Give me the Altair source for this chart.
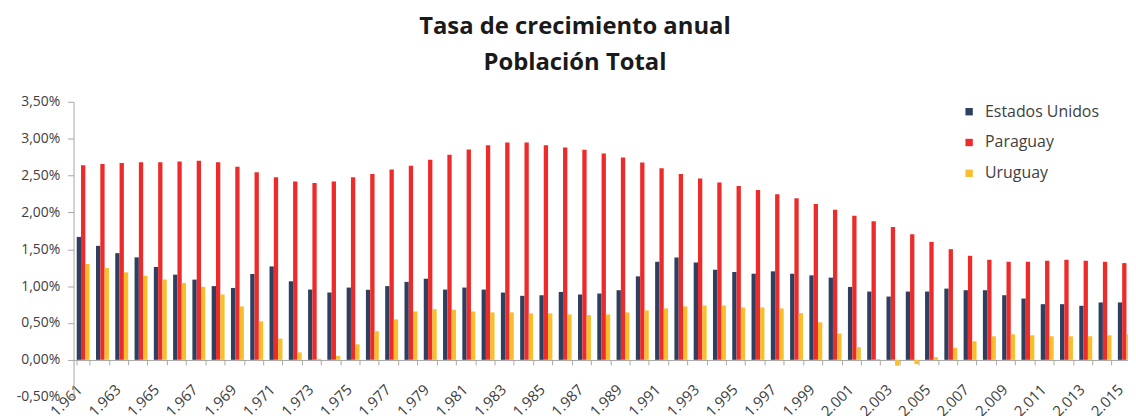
import altair as alt
import pandas as pd

years = list(range(1961, 2016))
series = ["Estados Unidos", "Paraguay", "Uruguay"]
colors = ["#2E3F5F", "#EE2B2B", "#F8BE2C"]

usa = [1.667, 1.546, 1.447, 1.39, 1.26, 1.155, 1.088, 1.0, 0.975, 1.164,
       1.267, 1.065, 0.953, 0.912, 0.98, 0.95, 1.0, 1.057, 1.10, 0.953,
       0.98, 0.953, 0.912, 0.868, 0.876, 0.921, 0.886, 0.899, 0.944, 1.132,
       1.33, 1.388, 1.32, 1.222, 1.191, 1.168, 1.2, 1.168, 1.146, 1.115,
       0.989, 0.926, 0.858, 0.926, 0.926, 0.966, 0.944, 0.944, 0.876, 0.831,
       0.755, 0.755, 0.733, 0.778, 0.778]
paraguay = [2.64, 2.655, 2.67, 2.68, 2.68, 2.69, 2.70, 2.68, 2.62, 2.543,
            2.476, 2.42, 2.40, 2.42, 2.476, 2.52, 2.58, 2.633, 2.714, 2.78,
            2.853, 2.91, 2.947, 2.947, 2.91, 2.88, 2.849, 2.80, 2.745, 2.678,
            2.597, 2.52, 2.458, 2.404, 2.359, 2.305, 2.247, 2.193, 2.112, 2.035,
            1.954, 1.878, 1.80, 1.703, 1.60, 1.501, 1.411, 1.357, 1.33, 1.33,
            1.344, 1.357, 1.344, 1.33, 1.312]
uruguay = [1.30, 1.245, 1.186, 1.14, 1.088, 1.043, 0.99, 0.886, 0.724, 0.522,
           0.288, 0.10, 0.014, 0.054, 0.21, 0.387, 0.548, 0.656, 0.687, 0.679,
           0.656, 0.643, 0.643, 0.63, 0.63, 0.616, 0.607, 0.616, 0.643, 0.67,
           0.697, 0.724, 0.737, 0.737, 0.71, 0.71, 0.697, 0.634, 0.508, 0.356,
           0.171, 0.01, -0.08, -0.058, 0.036, 0.162, 0.252, 0.319, 0.346, 0.333,
           0.319, 0.319, 0.319, 0.333, 0.346]
y_ticks = [-0.5, 0.0, 0.5, 1.0, 1.5, 2.0, 2.5, 3.0, 3.5]

rows = []
for name, vals in zip(series, [usa, paraguay, uruguay]):
    for yr, v in zip(years, vals):
        rows.append({"year": yr, "serie": name, "value": v})
df = pd.DataFrame(rows)

FONT = "Open Sans"

chart = alt.Chart(df).mark_bar().encode(
    x=alt.X("year:O",
            scale=alt.Scale(paddingInner=0.33, paddingOuter=0.165),
            axis=alt.Axis(title=None, offset=-37, tickBand="extent", tickSize=5,
                          tickColor="#A6A6A6", domainColor="#A6A6A6",
                          labelAngle=-45, labelAlign="right", labelBaseline="middle",
                          labelPadding=22, labelOffset=-4, labelFont=FONT,
                          labelFontSize=15, labelColor="#404040", labelOverlap=False,
                          labelExpr="datum.value % 2 == 1 ? substring(toString(datum.value), 0, 1) + '.' + substring(toString(datum.value), 1) : ''")),
    xOffset=alt.XOffset("serie:N", sort=series,
                        scale=alt.Scale(paddingInner=0, paddingOuter=0)),
    y=alt.Y("value:Q",
            scale=alt.Scale(domain=[-0.5, 3.5], nice=False, zero=False),
            axis=alt.Axis(title=None, values=y_ticks, grid=False, tickSize=6,
                          tickColor="#A6A6A6", domainColor="#A6A6A6",
                          labelPadding=8, labelFont=FONT, labelFontSize=14,
                          labelColor="#404040",
                          labelExpr="replace(replace(format(datum.value, '.2f'), '.', ','), '\u2212', '-') + '%'")),
    color=alt.Color("serie:N", sort=series,
                    scale=alt.Scale(domain=series, range=colors),
                    legend=alt.Legend(title=None, orient="none", legendX=894, legendY=2,
                                      symbolType="square", symbolSize=55,
                                      symbolStrokeWidth=0, labelFont=FONT,
                                      labelFontSize=16, labelColor="#404040",
                                      rowPadding=15, labelOffset=8)),
).properties(
    width=1068,
    height=297,
    autosize=alt.AutoSizeParams(type="none"),
    padding={"left": 66, "top": 93, "right": -6, "bottom": 18},
    title=alt.TitleParams(text=["Tasa de crecimiento anual", "Población Total"],
                          font=FONT, fontSize=24, fontWeight="bold",
                          color="#1A1A1A", lineHeight=36, anchor="middle",
                          frame="group", dx=-29, offset=20),
).configure_view(stroke=None)

chart.save("out.html", embed_options={"renderer": "svg", "actions": False})
